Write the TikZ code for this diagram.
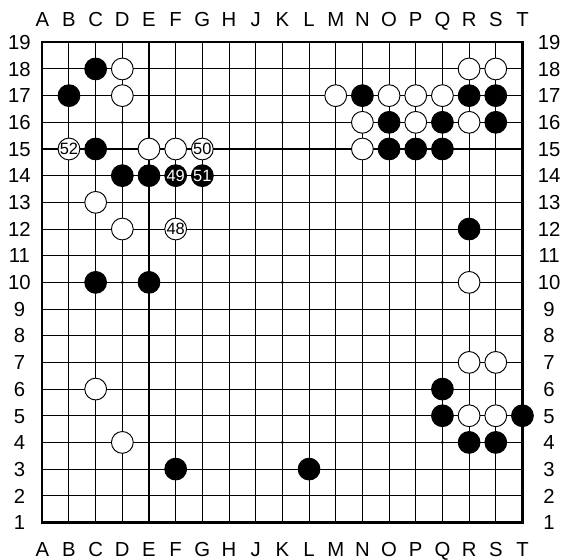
\documentclass[tikz,border=0pt]{standalone}
\usepackage{fontspec}
\setmainfont{Liberation Sans}
\definecolor{Ink}{HTML}{000000}
\definecolor{Paper}{HTML}{FFFFFF}
\tikzset{
  gridline/.style={line width=0.65pt,draw=Ink},
  edgeline/.style={line width=1.4pt,draw=Ink},
  coordlabel/.style={font=\fontsize{13}{13}\selectfont,text=Ink,inner sep=0pt,text height=9.3pt,text depth=0pt},
  stone/.style={circle,line width=0.6pt,draw=Ink,minimum size=4.9mm,inner sep=0pt,font=\fontsize{10.5}{10.5}\selectfont},
  bstone/.style={stone,fill=Ink,text=Paper},
  wstone/.style={stone,fill=Paper,text=Ink},
  hoshi/.style={fill=Ink}
}
\begin{document}
\begin{tikzpicture}[x=6mm,y=6mm]
\useasboundingbox (-1.586,-1.374) rectangle (19.52,19.586);
% board lines
\foreach \n in {1,...,17} \draw[gridline] (0,\n) -- (18,\n);
\foreach \n in {1,...,17} \draw[gridline] (\n,0) -- (\n,18);
\draw[edgeline] (0,0) rectangle (18,18);
% coordinates
\foreach \c [count=\i from 0] in {A,B,C,D,E,F,G,H,J,K,L,M,N,O,P,Q,R,S,T}{
  \coordinate (col-\c) at (\i,0);
  \node[coordlabel] (top-\c) at (\i,18.875) {\c};
  \node[coordlabel] (bot-\c) at (\i,-1.0) {\c};
}
\foreach \r in {1,...,19}{
  \coordinate (row-\r) at (0,\r-1);
  \node[coordlabel] (left-\r) at (-0.855,\r-1) {\r};
  \node[coordlabel] (right-\r) at (19,\r-1) {\r};
}
% star points
\foreach \c/\r in {D/16,K/16,Q/16,D/10,K/10,Q/10,D/4,K/4,Q/4}
  \fill[hoshi] (col-\c |- row-\r) circle (0.06);
% black stones
\foreach \c/\r in {C/18,B/17,C/15,D/14,E/14,C/10,E/10,F/3,L/3,
  N/17,R/17,S/17,O/16,Q/16,S/16,O/15,P/15,Q/15,R/12,Q/6,Q/5,T/5,R/4,S/4}
  \node[bstone] (\c\r) at (col-\c |- row-\r) {};
% white stones
\foreach \c/\r in {D/18,D/17,E/15,F/15,C/13,D/12,C/6,D/4,
  R/18,S/18,M/17,O/17,P/17,Q/17,N/16,P/16,R/16,N/15,R/10,R/7,S/7,R/5,S/5}
  \node[wstone] (\c\r) at (col-\c |- row-\r) {};
% numbered moves
\node[wstone] (F12) at (col-F |- row-12) {48};
\node[bstone] (F14) at (col-F |- row-14) {49};
\node[wstone] (G15) at (col-G |- row-15) {50};
\node[bstone] (G14) at (col-G |- row-14) {51};
\node[wstone] (B15) at (col-B |- row-15) {52};
\end{tikzpicture}
\end{document}
